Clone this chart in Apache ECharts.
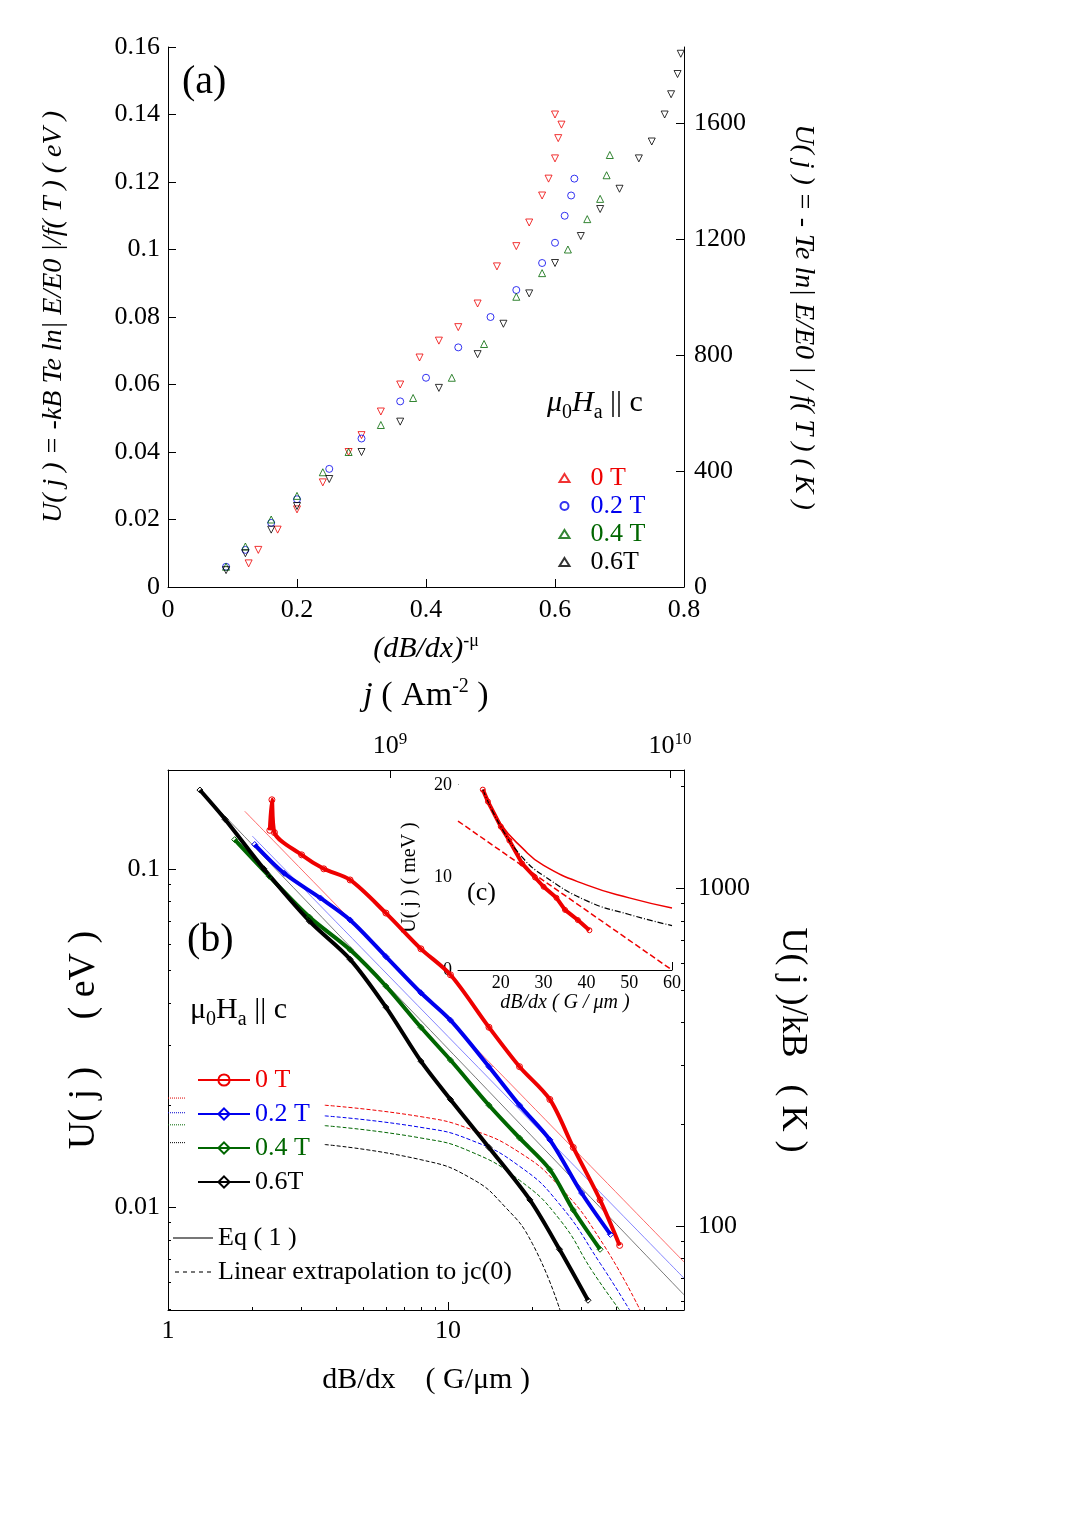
<!DOCTYPE html><html><head><meta charset="utf-8"><script src="https://cdn.jsdelivr.net/npm/echarts@6/dist/echarts.min.js"></script>
<style>body{margin:0;background:#fff}#c{width:1080px;height:1528px}</style></head><body><div id="c"></div><script>
// Panel (a): [(dB/dx)^-mu, U eV]
const a0T=[[0.125,0.007],[0.14,0.011],[0.17,0.017],[0.2,0.023],[0.24,0.031],[0.28,0.040],[0.3,0.045],[0.33,0.052],[0.36,0.060],[0.39,0.068],[0.42,0.073],[0.45,0.077],[0.48,0.084],[0.51,0.095],[0.54,0.101],[0.56,0.108],[0.58,0.116],[0.59,0.121],[0.6,0.127],[0.605,0.133],[0.61,0.137],[0.6,0.14]];
const a02T=[[0.09,0.006],[0.12,0.011],[0.16,0.019],[0.2,0.026],[0.25,0.035],[0.3,0.044],[0.36,0.055],[0.4,0.062],[0.45,0.071],[0.5,0.080],[0.54,0.088],[0.58,0.096],[0.6,0.102],[0.615,0.110],[0.625,0.116],[0.63,0.121]];
const a04T=[[0.09,0.006],[0.12,0.012],[0.16,0.020],[0.2,0.027],[0.24,0.034],[0.28,0.040],[0.33,0.048],[0.38,0.056],[0.44,0.062],[0.49,0.072],[0.54,0.086],[0.58,0.093],[0.62,0.100],[0.65,0.109],[0.67,0.115],[0.68,0.122],[0.685,0.128]];
const a06T=[[0.09,0.005],[0.12,0.010],[0.16,0.017],[0.2,0.024],[0.25,0.032],[0.3,0.040],[0.36,0.049],[0.42,0.059],[0.48,0.069],[0.52,0.078],[0.56,0.087],[0.6,0.096],[0.64,0.104],[0.67,0.112],[0.7,0.118],[0.73,0.127],[0.75,0.132],[0.77,0.140],[0.78,0.146],[0.79,0.152],[0.795,0.158]];
// Panel (b): [dB/dx G/um, U eV]
const b0T=[[2.31,0.130],[2.35,0.16],[2.4,0.128],[3.0,0.110],[3.6,0.100],[4.47,0.0927],[6,0.074],[8,0.058],[10.2,0.0486],[14,0.034],[18,0.026],[23.1,0.0208],[28,0.015],[34.9,0.0105],[41,0.0077]];
const b02T=[[2.04,0.118],[2.6,0.097],[3.5,0.082],[4.47,0.0706],[6,0.055],[8,0.043],[10.2,0.0357],[14,0.026],[18,0.020],[23.1,0.0158],[30,0.011],[38,0.0083]];
const b04T=[[1.73,0.122],[2.3,0.095],[3.2,0.072],[4.47,0.0576],[6,0.045],[8,0.034],[10.2,0.0272],[14,0.020],[18,0.016],[23.1,0.0129],[28,0.0098],[34.9,0.0075]];
const b06T=[[1.3,0.171],[1.6,0.140],[2.2,0.100],[3.2,0.070],[4.47,0.054],[6,0.039],[8,0.027],[10.2,0.0208],[14,0.0150],[19.6,0.0105],[25,0.0075],[31.6,0.0053]];
const eq1Red=[[1.88,0.148],[69.6,0.00688]];
const eq1Blue=[[2.0,0.125],[69.6,0.00616]];
const eq1Black=[[1.3,0.171],[69.6,0.0055]];
const extRed=[[3.63,0.0200],[8,0.0185],[12,0.0170],[18,0.0145],[25,0.0115],[35,0.0080],[48.5,0.00496]];
const extBlue=[[3.63,0.0186],[8,0.0172],[12,0.0158],[18,0.0132],[25,0.0102],[35,0.0068],[44.5,0.00496]];
const extGreen=[[3.63,0.0174],[8,0.0160],[12,0.0146],[18,0.0120],[25,0.0092],[33,0.0064],[41,0.00496]];
const extBlack=[[3.63,0.0153],[8,0.0138],[12,0.0122],[16,0.0100],[20,0.0078],[25.1,0.00496]];
const dots=[[0.0210,'#d00'],[0.0190,'#00c'],[0.0175,'#060'],[0.0155,'#000']];
// Inset (c): [dB/dx, U meV]
const cData=[[15.8,19.5],[17,18.2],[20,15.5],[22,14],[25,11.5],[28,10],[30,9],[33,7.8],[35,6.5],[38,5.4],[40.7,4.3]];
const cEq1=[[15.8,19.5],[20,15.8],[25,13.2],[30,11.3],[40,9.2],[50,7.8],[60,6.7]];
const cEq2=[[15.8,19.5],[20,15.5],[25,12.2],[30,10.2],[40,7.5],[50,6.0],[60,4.8]];
const cLin=[[10,16.1],[60,0]];
const F='Liberation Serif';
const ch=echarts.init(document.getElementById('c'));
const ax=(o)=>Object.assign({axisLine:{lineStyle:{color:'#000'}},axisTick:{inside:true,length:8,lineStyle:{color:'#000'}},splitLine:{show:false},axisLabel:{color:'#000',fontFamily:F,fontSize:26}},o);
const hollow=(c)=>({color:'none',borderColor:c,borderWidth:1});
const LINEICON='path://M0 0H20V1H0Z';
function sa(name,d,c,sym,rot){return {name,type:'scatter',xAxisIndex:0,yAxisIndex:0,data:d,symbol:sym,symbolRotate:rot||0,symbolSize:7,itemStyle:hollow(c)};}
function sb(name,d,c,sym){return {name,type:'line',xAxisIndex:1,yAxisIndex:2,data:d,smooth:0.3,symbol:sym,symbolSize:6,showSymbol:true,lineStyle:{color:c,width:4},itemStyle:hollow(c)};}
function lb(name,d,c,type,w){return {name,type:'line',xAxisIndex:1,yAxisIndex:2,data:d,symbol:'none',smooth:true,itemStyle:{color:c},lineStyle:{color:c,width:w||1,type:type}};}
const dotSeries=dots.map((d,i)=>({name:'dot'+i,type:'line',xAxisIndex:1,yAxisIndex:2,data:[[1,d[0]],[1.15,d[0]]],symbol:'none',lineStyle:{color:d[1],type:'dotted',width:1}}));
const logLbl={showMinLabel:false,showMaxLabel:false,formatter:v=>String(v)};
ch.setOption({
 animation:false,
 grid:[{left:168,top:47,width:516,height:540},{left:168,top:770,width:516,height:540},{left:458,top:785,width:214,height:185,z:5,backgroundColor:'#fff',show:true,borderWidth:0}],
 xAxis:[
  ax({gridIndex:0,min:0,max:0.8,interval:0.2,name:'{i|(dB/dx)}{s|-μ}',nameLocation:'middle',nameGap:45,nameTextStyle:{color:'#000',rich:{i:{fontFamily:F,fontSize:30,fontStyle:'italic'},s:{fontFamily:F,fontSize:18,verticalAlign:'top',padding:[0,0,16,0]}}},axisLabel:{color:'#000',fontFamily:F,fontSize:26,margin:10}}),
  ax({gridIndex:1,type:'log',min:1,max:69.6,axisLabel:{color:'#000',fontFamily:F,fontSize:26,showMaxLabel:false},name:'dB/dx    ( G/μm )',nameLocation:'middle',nameGap:55,nameTextStyle:{fontFamily:F,fontSize:30,color:'#000'},minorTick:{show:true,splitNumber:9}}),
  ax({gridIndex:1,type:'log',position:'top',min:Math.pow(10,8.207),max:Math.pow(10,10.05),axisLabel:{showMinLabel:false,showMaxLabel:false,color:'#000',fontFamily:F,fontSize:26,formatter:v=>'{b|10}{s|'+Math.round(Math.log10(v))+'}',rich:{b:{fontFamily:F,fontSize:26},s:{fontFamily:F,fontSize:17,verticalAlign:'top',padding:[0,0,14,0]}}},name:'{i|j} ( Am{s|-2} )',nameLocation:'middle',nameGap:55,nameTextStyle:{color:'#000',rich:{i:{fontFamily:F,fontSize:34,fontStyle:'italic'},s:{fontFamily:F,fontSize:20,verticalAlign:'top',padding:[0,0,18,0]}},fontFamily:F,fontSize:34}}),
  ax({gridIndex:2,min:10,max:60,interval:10,axisLabel:{color:'#000',fontFamily:F,fontSize:18,margin:4,formatter:v=>v==10?'':v},name:'dB/dx ( G / μm )',nameLocation:'middle',nameGap:22,nameTextStyle:{fontFamily:F,fontSize:20,fontStyle:'italic',color:'#000'}})
 ],
 yAxis:[
  ax({gridIndex:0,min:0,max:0.16,interval:0.02,name:'U( j ) = -kB Te ln| E/E0 |/f( T ) ( eV )',nameLocation:'middle',nameGap:100,nameTextStyle:{fontFamily:F,fontSize:28,fontStyle:'italic',color:'#000'}}),
  ax({gridIndex:0,position:'right',min:0,max:1862,interval:400,axisLabel:{color:'#000',fontFamily:F,fontSize:26,margin:10,showMaxLabel:false,formatter:v=>String(v)},name:'U( j ) = - Te ln| E/E0 | / f( T ) ( K )',nameLocation:'middle',nameRotate:-90,nameGap:105,nameTextStyle:{fontFamily:F,fontSize:28,fontStyle:'italic',color:'#000'}}),
  ax({gridIndex:1,type:'log',min:0.00496,max:0.196,axisLabel:Object.assign({color:'#000',fontFamily:F,fontSize:26},logLbl),minorTick:{show:true,splitNumber:9},name:'U( j )     ( eV )',nameLocation:'middle',nameGap:65,nameTextStyle:{fontFamily:F,fontSize:38,color:'#000'}}),
  ax({gridIndex:1,type:'log',position:'right',min:56.4,max:2236,minorTick:{show:true,splitNumber:9},axisLabel:Object.assign({color:'#000',fontFamily:F,fontSize:26,margin:14},logLbl),name:'U( j )/kB   ( K )',nameLocation:'middle',nameRotate:-90,nameGap:90,nameTextStyle:{fontFamily:F,fontSize:36,color:'#000'}}),
  ax({gridIndex:2,min:0,max:20,interval:10,axisLabel:{color:'#000',fontFamily:F,fontSize:18,margin:6},name:'U( j ) ( meV )',nameLocation:'middle',nameGap:38,nameTextStyle:{fontFamily:F,fontSize:20,color:'#000'}})
 ],
 legend:[
  {left:552,top:460,orient:'vertical',itemGap:2,itemWidth:10,itemHeight:8,textStyle:{fontFamily:F,fontSize:26,padding:[0,0,0,16]},data:[{name:'0 T',textStyle:{color:'#e00'}},{name:'0.2 T',textStyle:{color:'#00e'}},{name:'0.4 T',textStyle:{color:'#060'}},{name:'0.6T',textStyle:{color:'#000'}}]},
  {left:192,top:1062,orient:'vertical',itemGap:8,itemWidth:52,textStyle:{fontFamily:F,fontSize:26},data:[{name:'0 T ',textStyle:{color:'#e00'}},{name:'0.2 T ',textStyle:{color:'#00e'}},{name:'0.4 T ',textStyle:{color:'#060'}},{name:'0.6T ',textStyle:{color:'#000'}}]},
  {left:168,top:1220,orient:'vertical',itemGap:8,itemWidth:40,itemHeight:2,textStyle:{fontFamily:F,fontSize:26,color:'#000'},data:[{name:'Eq ( 1 )',icon:LINEICON,itemStyle:{color:'#777'}},{name:'Linear extrapolation to jc(0)',icon:'path://M0 0H2V1H0ZM4 0H6V1H4ZM8 0H10V1H8ZM12 0H14V1H12ZM16 0H18V1H16Z',itemStyle:{color:'#777'}}]},
  {left:540,top:795,orient:'vertical',itemGap:4,itemWidth:22,textStyle:{fontFamily:F,fontSize:20,color:'#e00'},data:['Data 0.2 T',{name:'Eq. ( 1 )',icon:LINEICON,itemStyle:{color:'#e00'}}]},
  {left:460,top:922,orient:'vertical',itemGap:4,itemWidth:26,itemHeight:2,textStyle:{fontFamily:F,fontSize:18},data:[{name:'Eq. ( 2 )',icon:LINEICON,itemStyle:{color:'#000'},textStyle:{color:'#000',fontSize:20}},{name:'Linear extrapolation',icon:LINEICON,itemStyle:{color:'#e00'},textStyle:{color:'#e00',fontSize:16}}]}
 ],
 graphic:[
  {type:'text',left:182,top:62,style:{text:'(a)',font:'40px "Liberation Serif"',fill:'#000'}},
  {type:'text',left:547,top:388,style:{text:'{i|μ}{s|0}{i|H}{s|a} || c',rich:{i:{fontFamily:F,fontSize:30,fontStyle:'italic'},s:{fontFamily:F,fontSize:20,verticalAlign:'bottom',padding:[20,0,0,0]}},font:'30px "Liberation Serif"',fill:'#000'}},
  {type:'text',left:187,top:920,style:{text:'(b)',font:'40px "Liberation Serif"',fill:'#000'}},
  {type:'text',left:190,top:995,style:{text:'{i|μ}{s|0}{i|H}{s|a} || c',rich:{i:{fontFamily:F,fontSize:30},s:{fontFamily:F,fontSize:20,verticalAlign:'bottom',padding:[20,0,0,0]}},font:'30px "Liberation Serif"',fill:'#000'}},
  {type:'text',left:467,top:880,z:10,style:{text:'(c)',font:'26px "Liberation Serif"',fill:'#000'}}
 ],
 series:[
  sa('0 T',a0T,'#e00','triangle',180),sa('0.2 T',a02T,'#00e','circle'),sa('0.4 T',a04T,'#060','triangle'),sa('0.6T',a06T,'#000','triangle',180),
  lb('Eq ( 1 )',eq1Black,'#555','solid',0.8),lb('eqr',eq1Red,'#f44','solid',0.8),lb('eqb',eq1Blue,'#66f','solid',0.8),
  lb('extr',extRed,'#e00','dashed'),lb('extb',extBlue,'#00e','dashed'),lb('extg',extGreen,'#060','dashed'),lb('extk',extBlack,'#000','dashed'),
  {name:'Linear extrapolation to jc(0)',type:'line',xAxisIndex:1,yAxisIndex:2,data:[],symbol:'none',itemStyle:{color:'#555'},lineStyle:{color:'#555',type:'dotted',width:1}},
  ...dotSeries,
  sb('0 T ',b0T,'#e00','circle'),sb('0.2 T ',b02T,'#00e','diamond'),sb('0.4 T ',b04T,'#060','diamond'),sb('0.6T ',b06T,'#000','diamond'),
  {name:'Data 0.2 T',type:'line',xAxisIndex:3,yAxisIndex:4,data:cData,symbol:'circle',symbolSize:5,lineStyle:{color:'#e00',width:4},itemStyle:hollow('#e00'),z:6},
  {name:'Eq. ( 1 )',type:'line',xAxisIndex:3,yAxisIndex:4,data:cEq1,smooth:true,symbol:'none',itemStyle:{color:'#e00'},lineStyle:{color:'#e00',width:1.5},z:6},
  {name:'Eq. ( 2 )',type:'line',xAxisIndex:3,yAxisIndex:4,data:cEq2,smooth:true,symbol:'none',itemStyle:{color:'#000'},lineStyle:{color:'#000',width:1.2,type:[6,2,1,2]},z:6},
  {name:'Linear extrapolation',type:'line',xAxisIndex:3,yAxisIndex:4,data:cLin,symbol:'none',itemStyle:{color:'#e00'},lineStyle:{color:'#e00',width:1.5,type:'dashed'},z:6}
 ]
});
</script></body></html>
